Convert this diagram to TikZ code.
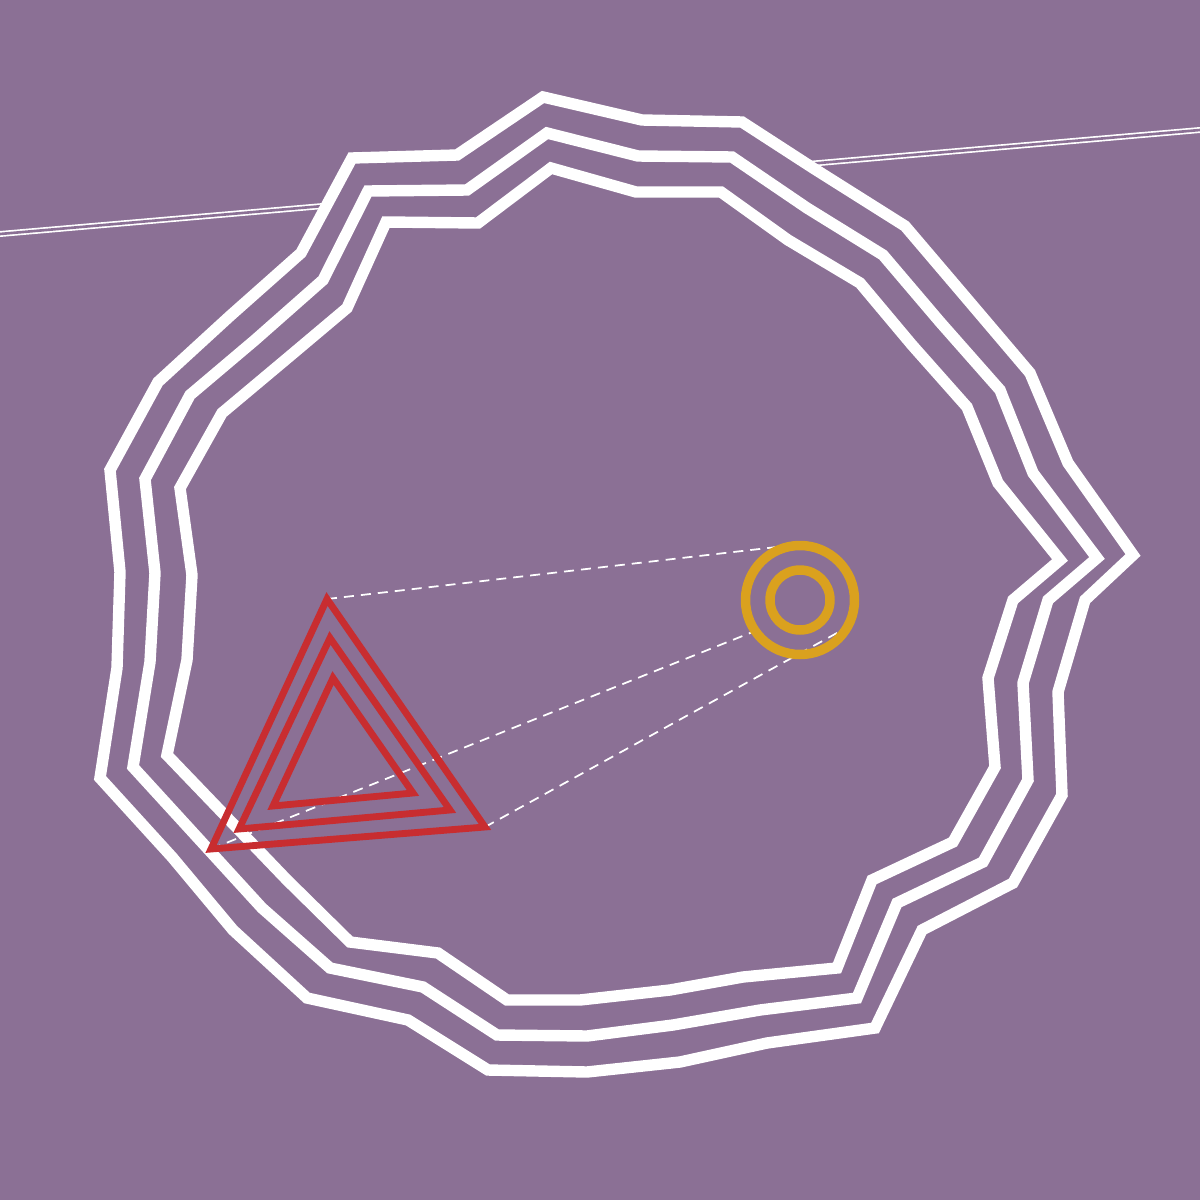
\documentclass[tikz,border=0pt]{standalone}
\begin{document}
\begin{tikzpicture}[x=0.02cm,y=-0.02cm,
  bgcol/.style={fill={rgb,255:red,139;green,112;blue,149}},
  wallline/.style={draw=white,line width=6.5pt,line join=miter,miter limit=10},
  redtri/.style={draw={rgb,255:red,200;green,45;blue,48},line width=3.9pt,line join=miter,miter limit=10},
  goldring/.style={draw={rgb,255:red,218;green,161;blue,30},line width=5.4pt},
  sightline/.style={draw=white,line width=1pt,dash pattern=on 5.7pt off 4pt},
  railline/.style={draw=white,line width=0.95pt,double={rgb,255:red,139;green,112;blue,149},double distance=1.5pt}]
\fill[bgcol] (0,0) rectangle (1200,1200);
\useasboundingbox (0,0) rectangle (1200,1200);
% double rail line (hidden by the enclosure)
\coordinate (railA) at (0,234);
\coordinate (railB) at (1200,130);
\draw[railline] (railA) -- (railB);
% outer wall (filled, hides the rail)
\filldraw[wallline,bgcol] (543,97) -- (642,120) -- (742,122) -- (813,168) -- (905,226) -- (968,300) -- (1030,373) -- (1068,463) -- (1133,555) -- (1085,600) -- (1058,692) -- (1062,795) -- (1013,883) -- (922,930) -- (875,1028) -- (767,1043) -- (680,1062) -- (587,1072) -- (488,1070) -- (408,1020) -- (307,998) -- (233,930) -- (172,857) -- (100,778) -- (117,668) -- (120,572) -- (110,470) -- (158,382) -- (230,316) -- (301,253) -- (352,158) -- (457,155) -- cycle;
% middle wall
\draw[wallline] (547,133) -- (638,156) -- (732,157) -- (807,208) -- (883,255) -- (940,322) -- (1000,390) -- (1033,473) -- (1097,558) -- (1048,600) -- (1023,683) -- (1028,780) -- (983,862) -- (897,903) -- (857,998) -- (760,1010) -- (673,1025) -- (587,1036) -- (497,1035) -- (423,987) -- (330,968) -- (262,908) -- (133,767) -- (150,662) -- (155,573) -- (145,479) -- (190,395) -- (255,340) -- (323,280) -- (368,191) -- (467,190) -- cycle;
% inner wall
\draw[wallline] (551,168) -- (636,192) -- (721,192) -- (788,240) -- (860,283) -- (912,345) -- (967,407) -- (998,483) -- (1060,560) -- (1013,600) -- (988,678) -- (995,767) -- (953,842) -- (872,880) -- (837,968) -- (743,977) -- (670,990) -- (580,1000) -- (507,1000) -- (438,953) -- (350,942) -- (287,880) -- (167,755) -- (187,660) -- (192,575) -- (180,488) -- (222,413) -- (290,356) -- (347,308) -- (386,222) -- (478,223) -- cycle;
% key points
\coordinate (tA) at (327,599);
\coordinate (tB) at (211,849);
\coordinate (tC) at (485,827);
\coordinate (cA) at (794,545);
\coordinate (cB) at (755,631);
\coordinate (cC) at (846,628);
\coordinate (ctr) at (800,600);
% sight lines
\draw[sightline] (tA) -- (cA);
\draw[sightline] (tB) -- (cB);
\draw[sightline] (tC) -- (cC);
% triangles
\draw[redtri] (tA) -- (tC) -- (tB) -- cycle;
\draw[redtri] (330,638) -- (450,810) -- (239,829) -- cycle;
\draw[redtri] (333,678) -- (413,793) -- (273,806) -- cycle;
% rings
\draw[goldring] (ctr) circle[radius=54.5];
\draw[goldring] (ctr) circle[radius=30];
\end{tikzpicture}
\end{document}
